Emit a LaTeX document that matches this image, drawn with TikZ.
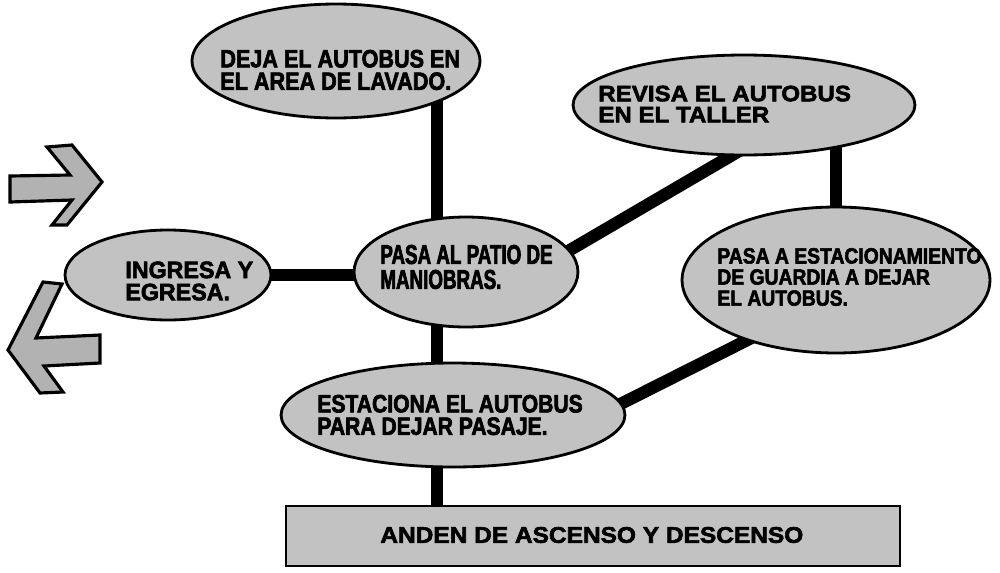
\documentclass[tikz,border=0pt]{standalone}
\usepackage{fontspec}
\newfontfamily\heavyfont{Liberation Sans}
\usetikzlibrary{shapes.geometric,backgrounds}
\tikzset{
  bubble/.style={ellipse,draw=black,line width=1.6pt,fill=black!24,inner sep=0pt},
  platform/.style={rectangle,draw=black,line width=1.6pt,fill=black!24,inner sep=0pt},
  bubbletext/.style n args={3}{anchor=west,align=left,inner sep=0pt,
    font=\heavyfont\bfseries\addfontfeatures{FakeStretch=#3,FakeBold=2.5}\fontsize{#1}{#2}\selectfont},
  link/.style={line width=7pt,black},
  blockarrow/.style={draw=black,line width=1.8pt,fill=black!30,line join=miter}
}
\begin{document}
\begin{tikzpicture}[x=0.02cm,y=-0.02cm]
\useasboundingbox (0,0) rectangle (1000,572);

\node[bubble,minimum width=5.76cm,minimum height=2.28cm] (lavado) at (336,61) {};
\node[bubble,minimum width=6.84cm,minimum height=2.0cm] (taller) at (744,105) {};
\node[bubble,minimum width=4.12cm,minimum height=1.8cm] (ingresa) at (168,275) {};
\node[bubble,minimum width=4.48cm,minimum height=2.2cm] (patio) at (466,272) {};
\node[bubble,minimum width=6.16cm,minimum height=2.92cm] (guardia) at (836,280) {};
\node[bubble,minimum width=6.88cm,minimum height=2.08cm] (estaciona) at (453,415) {};
\node[platform,minimum width=12.28cm,minimum height=1.2cm] (anden) at (593,536) {};

\node[bubbletext={14.3}{12.8}{0.86}] (lavadotext) at (220,70) {DEJA EL AUTOBUS EN\\EL AREA DE LAVADO.};
\node[bubbletext={12.7}{12.0}{1.08}] (tallertext) at (598,104) {REVISA EL AUTOBUS\\EN EL TALLER};
\node[bubbletext={13.5}{12.6}{0.98}] (ingresatext) at (125,281) {INGRESA Y\\EGRESA.};
\node[bubbletext={15.5}{14.2}{0.69}] (patiotext) at (380,267) {PASA AL PATIO DE\\MANIOBRAS.};
\node[bubbletext={12.5}{12.0}{0.88}] (guardiatext) at (717,277) {PASA A ESTACIONAMIENTO\\DE GUARDIA A DEJAR\\EL AUTOBUS.};
\node[bubbletext={14.3}{12.8}{0.84}] (estacionatext) at (317,415) {ESTACIONA EL AUTOBUS\\PARA DEJAR PASAJE.};
\node[bubbletext={12.9}{12}{1.08}] (andentext) at (380,535) {ANDEN DE ASCENSO Y DESCENSO};

\coordinate (trunk) at (437,0);
\begin{scope}[on background layer]
  \draw[link] (trunk |- lavado.center) -- (trunk |- patio.center);
  \draw[link] (trunk |- patio.center) -- (trunk |- estaciona.center);
  \draw[link] (trunk |- estaciona.center) -- (trunk |- anden.center);
  \draw[link] (ingresa.center) -- (ingresa.center -| patio.center);
  \draw[link,shorten <=-8pt,shorten >=-8pt] (patio.12) -- (taller.-105);
  \draw[link] (guardia.center) -- (guardia.center |- taller.center);
  \draw[link,shorten <=-8pt,shorten >=-8pt] (estaciona.4) -- (guardia.214);
\end{scope}

\draw[blockarrow] (10,176) -- (70,175) -- (47,147) -- (72,145) -- (102,182)
  -- (67,225) -- (52,225) -- (72,200) -- (10,202) -- cycle;
\draw[blockarrow] (8,350) -- (43,282) -- (62,284) -- (36,338) -- (100,335)
  -- (100,363) -- (44,366) -- (63,392) -- (40,393) -- cycle;
\end{tikzpicture}
\end{document}
